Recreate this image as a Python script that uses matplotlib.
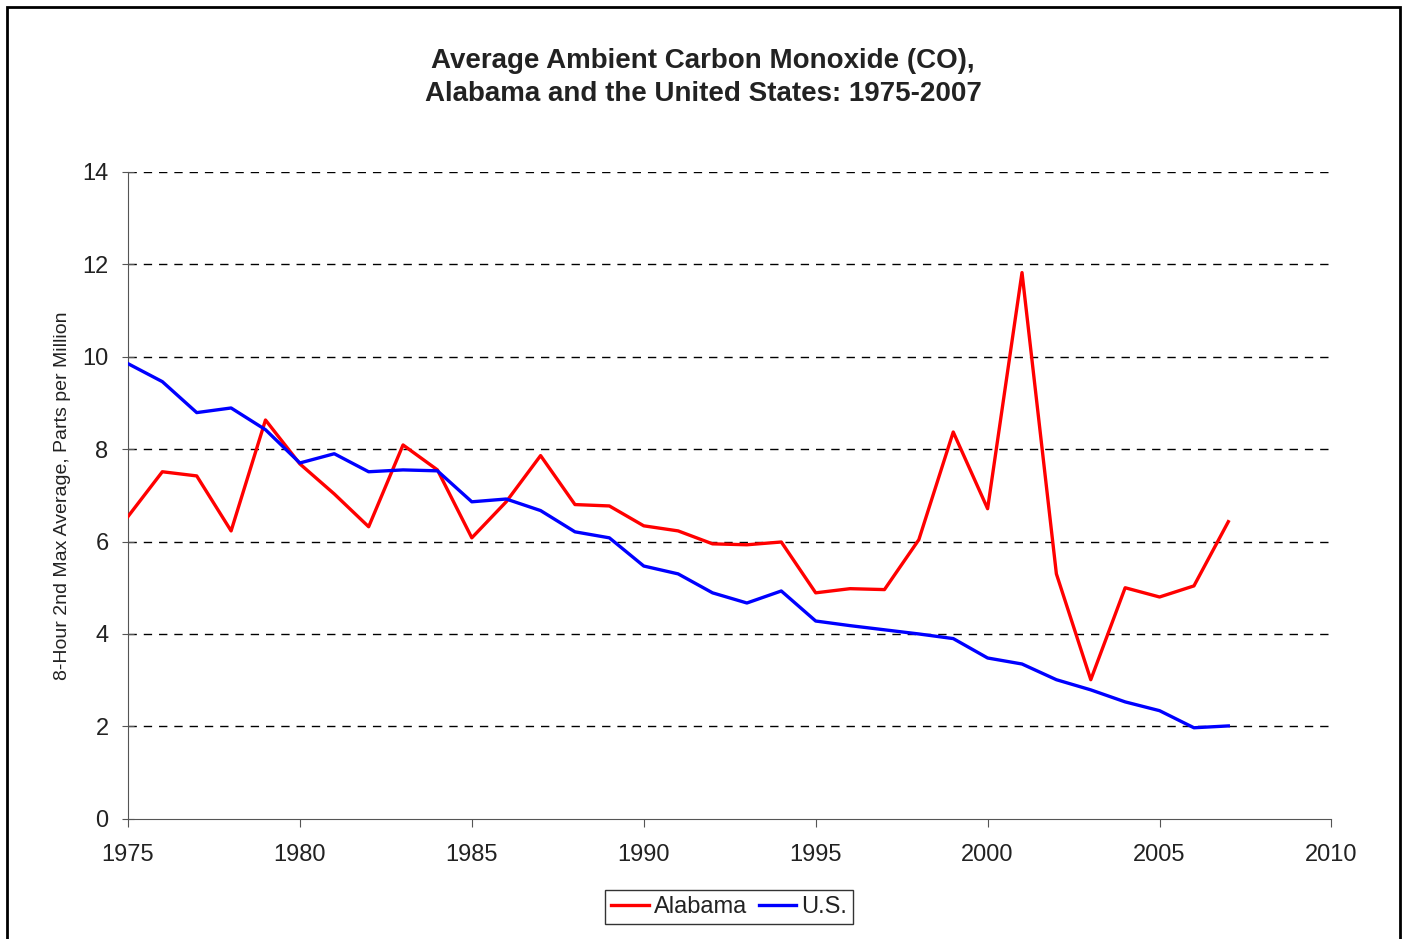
import matplotlib.pyplot as plt
from matplotlib.patches import Rectangle

plt.rcParams['font.family'] = ['Liberation Sans', 'DejaVu Sans']

years = list(range(1975, 2008))
alabama = [6.54, 7.51, 7.42, 6.23, 8.63, 7.68, 7.03, 6.32, 8.09, 7.55,
           6.08, 6.86, 7.86, 6.80, 6.77, 6.34, 6.23, 5.95, 5.93, 5.99,
           4.89, 4.98, 4.96, 6.04, 8.37, 6.71, 11.82, 5.30, 3.01, 5.00,
           4.80, 5.04, 6.43]
us = [9.85, 9.46, 8.79, 8.89, 8.42, 7.70, 7.90, 7.51, 7.55, 7.53,
      6.86, 6.92, 6.67, 6.21, 6.08, 5.47, 5.30, 4.89, 4.67, 4.93,
      4.28, 4.18, 4.09, 4.00, 3.90, 3.48, 3.35, 3.01, 2.79, 2.53,
      2.34, 1.97, 2.01]

x_ticks = [1975, 1980, 1985, 1990, 1995, 2000, 2005, 2010]
y_ticks = [0, 2, 4, 6, 8, 10, 12, 14]

fig = plt.figure(figsize=(14.06, 9.39), dpi=100)
ax = fig.add_axes([0.091, 0.128, 0.856, 0.689])

# gridlines
for y in y_ticks[1:]:
    ax.axhline(y, color='black', lw=1.0, ls=(0, (6, 5)), zorder=1)

ax.plot(years, alabama, color='#ff0000', lw=2.4, label='Alabama', zorder=3)
ax.plot(years, us, color='#0000ff', lw=2.4, label='U.S.', zorder=3)

ax.set_xlim(1975, 2010)
ax.set_ylim(0, 14)
ax.set_xticks(x_ticks)
ax.set_yticks(y_ticks)
ax.tick_params(axis='x', labelsize=17, length=6, color='#555555', pad=12,
               labelcolor='#222222')
ax.tick_params(axis='y', labelsize=17, length=8, direction='inout', color='#555555',
               pad=10, labelcolor='#222222')
ax.spines['top'].set_visible(False)
ax.spines['right'].set_visible(False)
ax.spines['left'].set_color('#555555')
ax.spines['bottom'].set_color('#555555')

ax.set_ylabel('8-Hour 2nd Max Average, Parts per Million', fontsize=14, labelpad=8,
              color='#222222')

fig.text(0.5, 0.917, 'Average Ambient Carbon Monoxide (CO),\nAlabama and the United States: 1975-2007',
         ha='center', va='center', fontsize=20, fontweight='bold', linespacing=1.35,
         color='#222222')

leg = fig.legend(loc='center', bbox_to_anchor=(729 / 1406, 0.034), ncol=2, fontsize=17,
                 frameon=True, fancybox=False, edgecolor='black', handlelength=1.6,
                 handletextpad=0.2, columnspacing=0.5, borderpad=0.25)
leg.get_frame().set_linewidth(1.0)
for t in leg.get_texts():
    t.set_color('#222222')

# outer border
fig.add_artist(Rectangle((7 / 1406, -0.02), (1400 - 7) / 1406, 1 - 7 / 939 + 0.02,
                         transform=fig.transFigure, fill=False, edgecolor='black', lw=2))

fig.savefig('out.png', dpi=100)
